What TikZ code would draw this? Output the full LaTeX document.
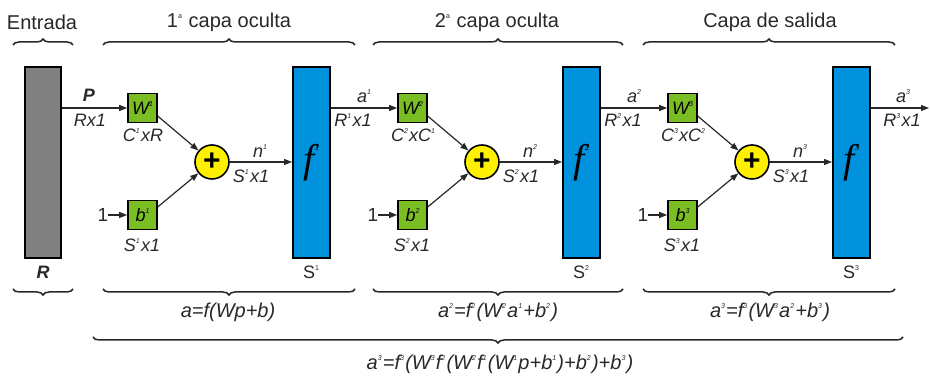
\documentclass[tikz,border=0pt]{standalone}
\usepackage{fontspec}
\setmainfont{Liberation Sans}
\newfontfamily\seriffam{Liberation Serif}
\usetikzlibrary{decorations.pathreplacing,arrows.meta,calc}

\definecolor{inpgray}{RGB}{128,128,128}
\definecolor{fblue}{RGB}{0,146,221}
\definecolor{wgreen}{RGB}{122,190,36}
\definecolor{sumyellow}{RGB}{255,240,0}
\definecolor{txtgray}{RGB}{40,40,40}

\newcommand{\supx}[1]{\raisebox{0.85ex}{\fontsize{7}{7}\selectfont #1}\hspace{1.2pt}}
\newcommand{\bigf}[1]{{\fontsize{40}{40}\selectfont\seriffam\itshape f\raisebox{22pt}{\fontsize{9}{9}\selectfont #1}}}

\tikzset{
  ttl/.style={font=\fontsize{20}{20}\selectfont, text=txtgray, inner sep=0pt},
  lbl/.style={font=\fontsize{18}{18}\selectfont\itshape, text=txtgray, inner sep=0pt},
  frm/.style={font=\fontsize{20}{20}\selectfont\itshape, text=txtgray, inner sep=0pt},
  inpbox/.style={draw, line width=2pt, fill=inpgray, minimum width=36pt, minimum height=191pt, inner sep=0pt},
  fbox/.style={draw, line width=2pt, fill=fblue, minimum width=37pt, minimum height=191pt, inner sep=0pt},
  wbox/.style={draw, line width=1.6pt, fill=wgreen, minimum size=29pt, inner sep=0pt, font=\fontsize{18}{18}\selectfont\itshape},
  sumnode/.style={circle, draw, line width=1.6pt, fill=sumyellow, minimum size=34pt, inner sep=0pt, font=\fontsize{30}{30}\selectfont\bfseries},
  conn/.style={-{Triangle[length=8pt,width=6pt]}, line width=1.2pt, draw=txtgray},
  brcup/.style={decorate, decoration={brace, amplitude=6pt}, line width=1.5pt, draw=txtgray},
  brcdown/.style={decorate, decoration={brace, mirror, amplitude=6pt}, line width=1.5pt, draw=txtgray}
}

\begin{document}
\begin{tikzpicture}[x=1pt, y=1pt]
    \useasboundingbox (0,0) rectangle (930,377);

    % Titles and top braces
    \node[ttl] (tin) at (42,355) {Entrada};
    \node[ttl] (tl1) at (229,355) {1\supx{a} capa oculta};
    \node[ttl] (tl2) at (497,355) {2\supx{a} capa oculta};
    \node[ttl] (tl3) at (770,355) {Capa de salida};

    \draw[brcup] (13,332) -- (73,332);
    \draw[brcup] (103,332) -- (355,332);
    \draw[brcup] (373,332) -- (623,332);
    \draw[brcup] (643,332) -- (895,332);

    % Input
    \node[inpbox] (inp) at (43,214.5) {};
    \node[lbl, font=\fontsize{18}{18}\selectfont\bfseries\itshape] (rlbl) at (43,105) {R};

    % ---- Layer 1 ----
    \node[wbox] (W1) at (142.5,269) {W\supx{1}};
    \node[wbox] (b1) at (142.5,162) {b\supx{1}};
    \node[sumnode] (sum1) at (212,215) {+};
    \node[fbox] (f1) at (311.5,214.5) {\bigf{1}};
    \node[lbl, font=\fontsize{19}{19}\selectfont] (one1) at (103,162) {1};

    \draw[conn] (inp.east |- W1) -- (W1);
    \draw[conn] (one1) -- (b1);
    \draw[conn] (W1.-28) -- (sum1);
    \draw[conn] (b1.28) -- (sum1);
    \draw[conn] (sum1) -- (sum1 -| f1.west);

    \node[lbl, font=\fontsize{18}{18}\selectfont\bfseries\itshape] (plbl) at (89,282) {P};
    \node[lbl] (rx1) at (90,257) {Rx1};
    \node[lbl] (cw1) at (143,242) {C\supx{1}xR};
    \node[lbl] (sb1) at (142,132) {S\supx{1}x1};
    \node[lbl] (n1) at (260,226) {n\supx{1}};
    \node[lbl] (sn1) at (251,201) {S\supx{1}x1};
    \node[lbl, font=\fontsize{18}{18}\selectfont] (s1) at (311,105) {S\supx{1}};

    % ---- Layer 2 ----
    \node[wbox] (W2) at (412.5,269) {W\supx{2}};
    \node[wbox] (b2) at (412.5,162) {b\supx{2}};
    \node[sumnode] (sum2) at (482,215) {+};
    \node[fbox] (f2) at (581.5,214.5) {\bigf{2}};
    \node[lbl, font=\fontsize{19}{19}\selectfont] (one2) at (373,162) {1};

    \draw[conn] (f1.east |- W2) -- (W2);
    \draw[conn] (one2) -- (b2);
    \draw[conn] (W2.-28) -- (sum2);
    \draw[conn] (b2.28) -- (sum2);
    \draw[conn] (sum2) -- (sum2 -| f2.west);

    \node[lbl] (a1) at (364,281) {a\supx{1}};
    \node[lbl] (r1x1) at (353,257) {R\supx{1}x1};
    \node[lbl] (cw2) at (413,242) {C\supx{2}xC\supx{1}};
    \node[lbl] (sb2) at (412,132) {S\supx{2}x1};
    \node[lbl] (n2) at (530,226) {n\supx{2}};
    \node[lbl] (sn2) at (521,201) {S\supx{2}x1};
    \node[lbl, font=\fontsize{18}{18}\selectfont] (s2) at (581,105) {S\supx{2}};

    % ---- Output layer ----
    \node[wbox] (W3) at (682.5,269) {W\supx{3}};
    \node[wbox] (b3) at (682.5,162) {b\supx{3}};
    \node[sumnode] (sum3) at (752,215) {+};
    \node[fbox] (f3) at (851.5,214.5) {\bigf{3}};
    \node[lbl, font=\fontsize{19}{19}\selectfont] (one3) at (643,162) {1};
    \coordinate (out) at (929,269);

    \draw[conn] (f2.east |- W3) -- (W3);
    \draw[conn] (one3) -- (b3);
    \draw[conn] (W3.-28) -- (sum3);
    \draw[conn] (b3.28) -- (sum3);
    \draw[conn] (sum3) -- (sum3 -| f3.west);
    \draw[conn] (f3.east |- out) -- (out);

    \node[lbl] (a2) at (634,281) {a\supx{2}};
    \node[lbl] (r2x1) at (623,257) {R\supx{2}x1};
    \node[lbl] (cw3) at (683,242) {C\supx{3}xC\supx{2}};
    \node[lbl] (sb3) at (682,132) {S\supx{3}x1};
    \node[lbl] (n3) at (800,226) {n\supx{3}};
    \node[lbl] (sn3) at (791,201) {S\supx{3}x1};
    \node[lbl, font=\fontsize{18}{18}\selectfont] (s3) at (851,105) {S\supx{3}};
    \node[lbl] (a3) at (903,281) {a\supx{3}};
    \node[lbl] (r3x1) at (902,257) {R\supx{3}x1};

    % Bottom braces and equations
    \draw[brcdown] (13,88) -- (73,88);
    \draw[brcdown] (103,88) -- (355,88);
    \draw[brcdown] (373,88) -- (623,88);
    \draw[brcdown] (643,88) -- (895,88);

    \node[frm] (eq1) at (228,65) {a=f(Wp+b)};
    \node[frm] (eq2) at (498,65) {a\supx{2}=f\supx{2}(W\supx{2}a\supx{1}+b\supx{2})};
    \node[frm] (eq3) at (770,65) {a\supx{3}=f\supx{3}(W\supx{3}a\supx{2}+b\supx{3})};

    \draw[brcdown] (93,40) -- (903,40);
    \node[frm] (eqall) at (500,13) {a\supx{3}=f\supx{3}(W\supx{3}f\supx{2}(W\supx{2}f\supx{1}(W\supx{1}p+b\supx{1})+b\supx{2})+b\supx{3})};

\end{tikzpicture}
\end{document}
